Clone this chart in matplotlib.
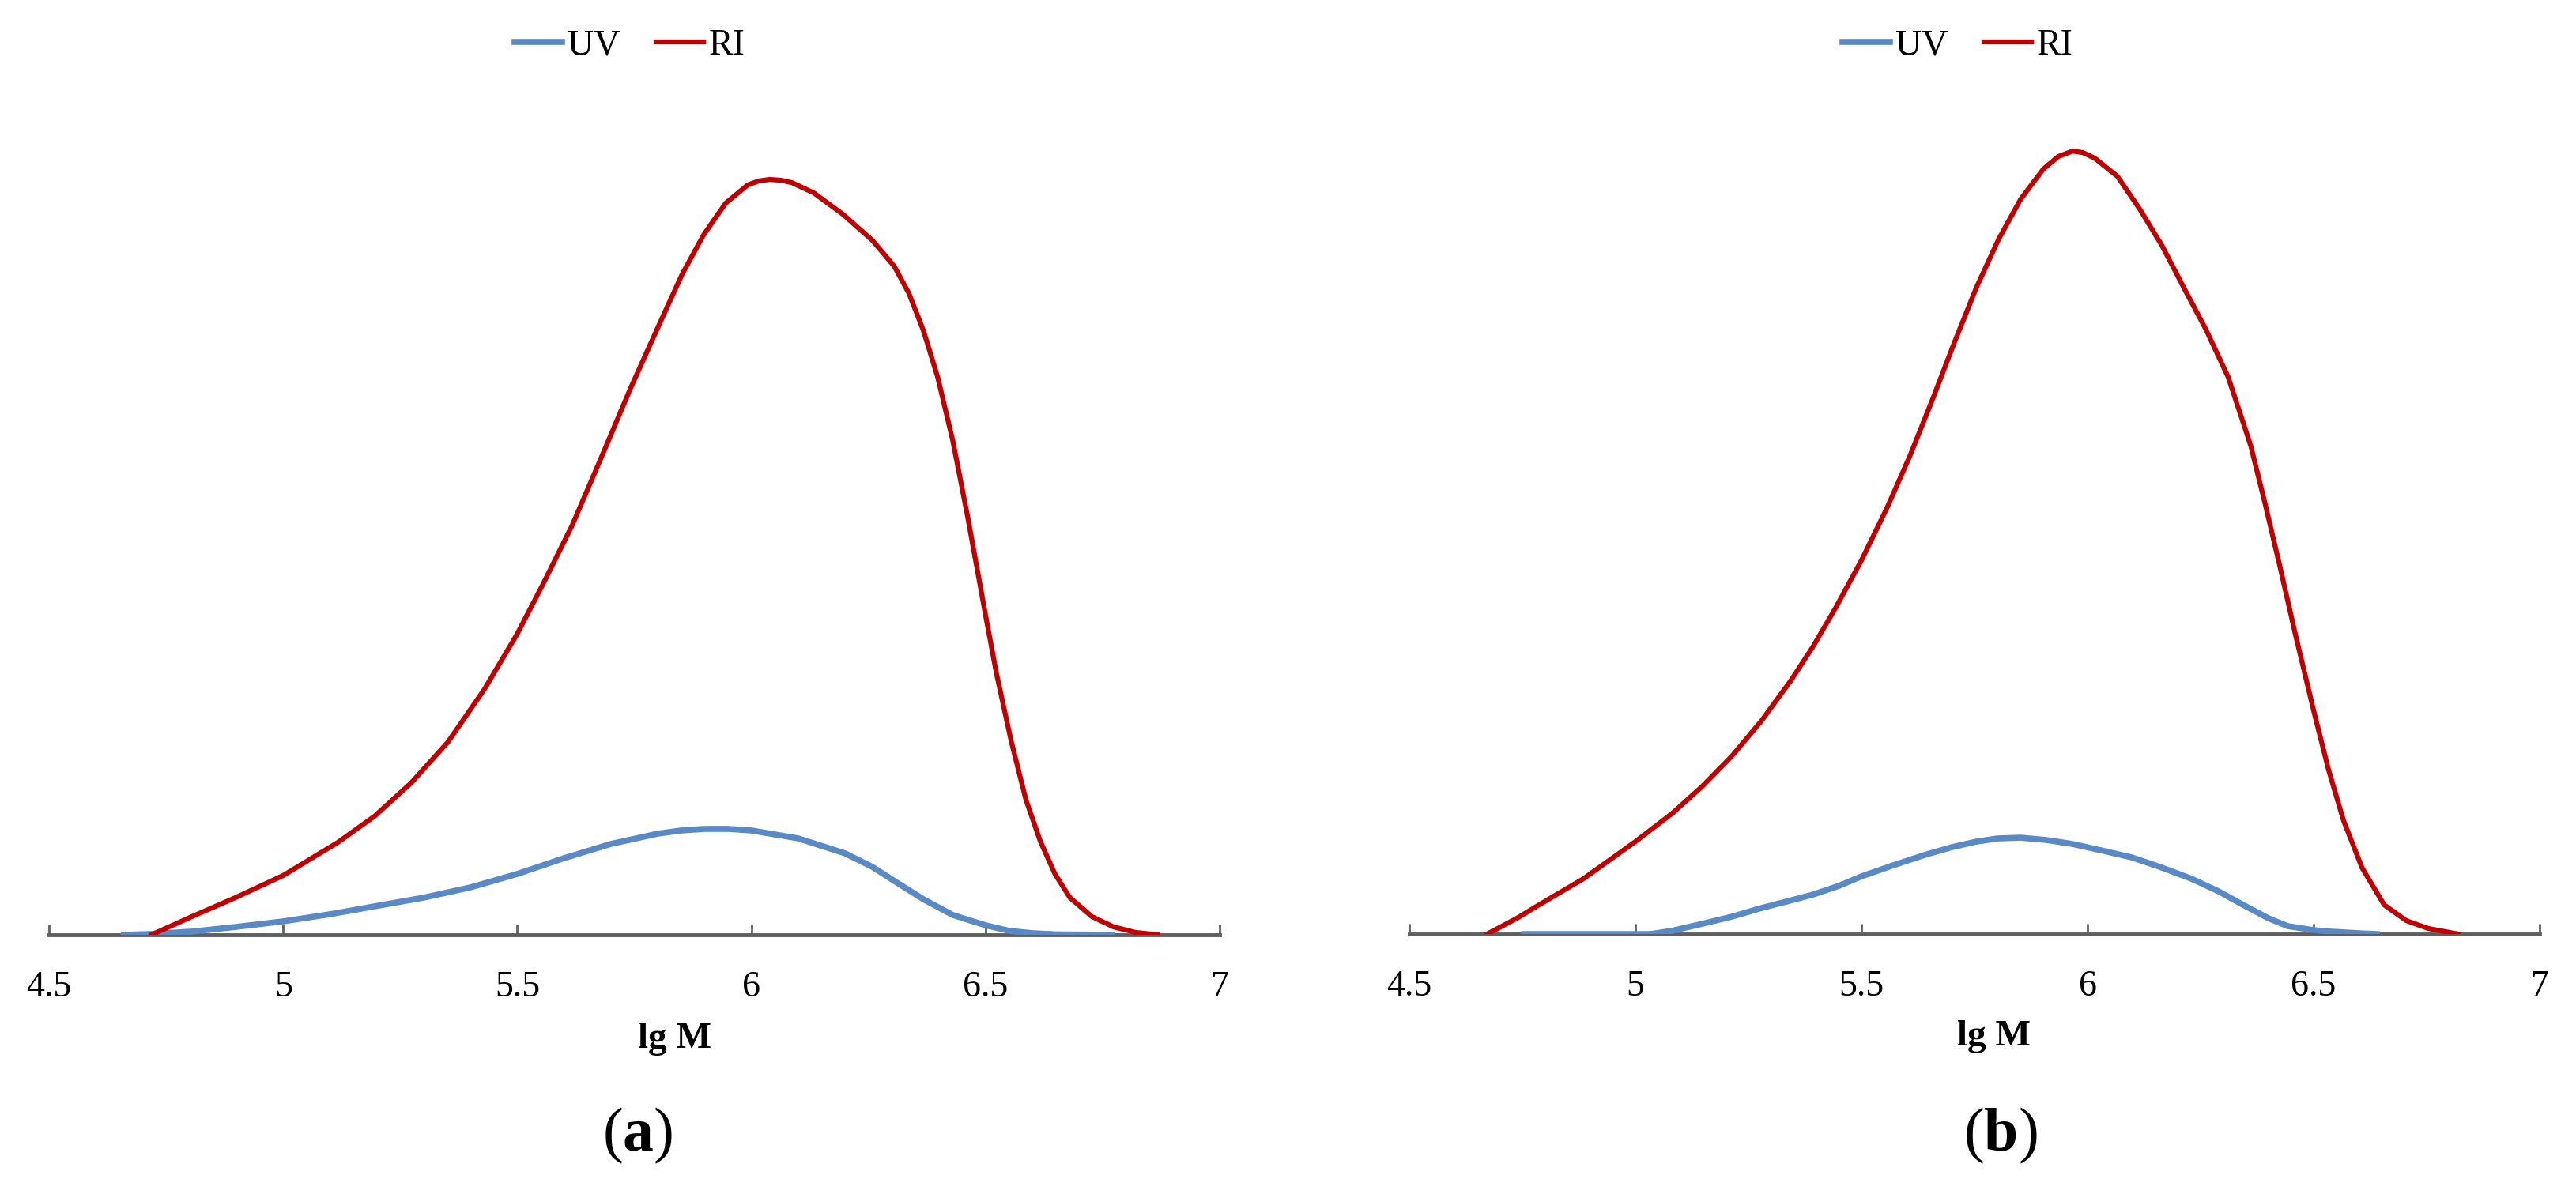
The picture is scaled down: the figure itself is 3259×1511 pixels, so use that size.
import matplotlib.pyplot as plt

plt.rcParams['font.family'] = ['Liberation Serif', 'DejaVu Serif']
plt.rcParams['mathtext.fontset'] = 'custom'
plt.rcParams['mathtext.rm'] = 'Liberation Serif'
plt.rcParams['mathtext.bf'] = 'Liberation Serif:bold'

# (a) left panel
lgm_ri_a = [4.719, 4.805, 4.898, 5.0, 5.117, 5.195, 5.273, 5.352, 5.43, 5.5, 5.555, 5.617,
            5.68, 5.742, 5.805, 5.852, 5.898, 5.945, 5.992, 6.015, 6.039, 6.062, 6.086,
            6.133, 6.195, 6.258, 6.305, 6.336, 6.367, 6.398, 6.43, 6.461, 6.5, 6.523,
            6.555, 6.586, 6.617, 6.648, 6.68, 6.727, 6.773, 6.82, 6.867]
ri_a = [0, 23, 47, 75, 117, 150, 192, 244, 311, 381, 444, 518, 605, 692, 775, 836, 886,
        926, 949, 954, 956, 955, 952, 939, 912, 879, 846, 812, 765, 705, 625, 531, 404,
        331, 244, 171, 118, 77, 47, 23, 10, 3, 0]
lgm_uv_a = [4.66, 4.72, 4.805, 4.9, 5.0, 5.1, 5.195, 5.3, 5.4, 5.5, 5.6, 5.7, 5.8, 5.85,
            5.9, 5.95, 6.0, 6.1, 6.2, 6.258, 6.3, 6.367, 6.43, 6.5, 6.55, 6.6, 6.65, 6.77]
uv_a = [0, 1, 4, 10, 17, 26, 36, 47, 60, 77, 97, 115, 128, 132, 134, 134, 132, 122, 103,
        86, 70, 45, 25, 12, 5, 2, 0.5, 0]

# (b) right panel
lgm_ri_b = [4.672, 4.738, 4.787, 4.885, 5.0, 5.082, 5.148, 5.213, 5.279, 5.344, 5.393,
            5.443, 5.5, 5.557, 5.607, 5.656, 5.705, 5.754, 5.803, 5.852, 5.902, 5.935,
            5.967, 5.99, 6.016, 6.066, 6.115, 6.164, 6.213, 6.262, 6.311, 6.361, 6.393,
            6.426, 6.459, 6.5, 6.533, 6.566, 6.607, 6.656, 6.705, 6.754, 6.82]
ri_b = [0, 20, 37, 70, 117, 153, 187, 225, 270, 321, 364, 413, 473, 540, 605, 675, 748,
        818, 879, 930, 968, 984, 991, 989, 982, 959, 918, 872, 818, 765, 705, 618, 544,
        464, 381, 283, 208, 144, 84, 37, 17, 7, 0]
lgm_uv_b = [4.754, 5.033, 5.08, 5.148, 5.213, 5.279, 5.34, 5.393, 5.45, 5.5, 5.57, 5.639,
            5.7, 5.754, 5.8, 5.852, 5.91, 5.967, 6.03, 6.098, 6.16, 6.23, 6.29, 6.344,
            6.4, 6.443, 6.5, 6.541, 6.6, 6.64]
uv_b = [0, 0, 4, 13, 22, 33, 42, 50, 61, 73, 87, 100, 110, 117, 121, 122, 119, 114, 106,
        97, 85, 70, 54, 37, 20, 10, 5, 3, 1, 0]

xticks = [4.5, 5, 5.5, 6, 6.5, 7]
xticklabels = ['4.5', '5', '5.5', '6', '6.5', '7']

blue = '#5A8AC6'
red = '#C00000'
axis_col = '#5F5F5F'

fig = plt.figure(figsize=(32.59, 15.11), dpi=100)
ax1 = fig.add_axes([0.01902, 0.2171, 0.4545, 0.6836])
ax2 = fig.add_axes([0.5471, 0.2177, 0.4388, 0.6836])

panels = [
    (ax1, lgm_uv_a, uv_a, lgm_ri_a, ri_a, 0.2445, 0.2620, 0.1296, 0.2476, r'($\mathbf{a}$)'),
    (ax2, lgm_uv_b, uv_b, lgm_ri_b, ri_b, 0.7600, 0.7739, 0.1320, 0.7766, r'($\mathbf{b}$)'),
]

for ax, xu, yu, xr, yr, legx, labx, laby, capx, cap in panels:
    l1, = ax.plot(xu, yu, color=blue, lw=5.5, label='UV', solid_joinstyle='round')
    l2, = ax.plot(xr, yr, color=red, lw=4.5, label='RI', solid_joinstyle='round')
    ax.set_xlim(4.5, 7)
    ax.set_ylim(0, 1033)
    ax.set_xticks(xticks)
    ax.set_xticklabels(xticklabels)
    ax.set_yticks([])
    for s in ['top', 'right', 'left']:
        ax.spines[s].set_visible(False)
    ax.spines['bottom'].set_color(axis_col)
    ax.spines['bottom'].set_linewidth(3.5)
    ax.spines['bottom'].set_zorder(0)
    ax.tick_params(axis='x', direction='in', length=9.5, width=2, color=axis_col,
                   labelsize=33, pad=33)
    ax.patch.set_alpha(0)
    fig.legend(handles=[l1, l2], loc='center', bbox_to_anchor=(legx, 0.9616), ncol=2,
               frameon=False, fontsize=33, handlelength=1.3, handletextpad=0.15,
               columnspacing=1.0)
    fig.text(labx, laby, 'lg M', ha='center', va='center', fontsize=34, fontweight='bold')
    fig.text(capx, 0.049, cap, ha='center', va='center', fontsize=56)

plt.savefig('out.png', dpi=100)
